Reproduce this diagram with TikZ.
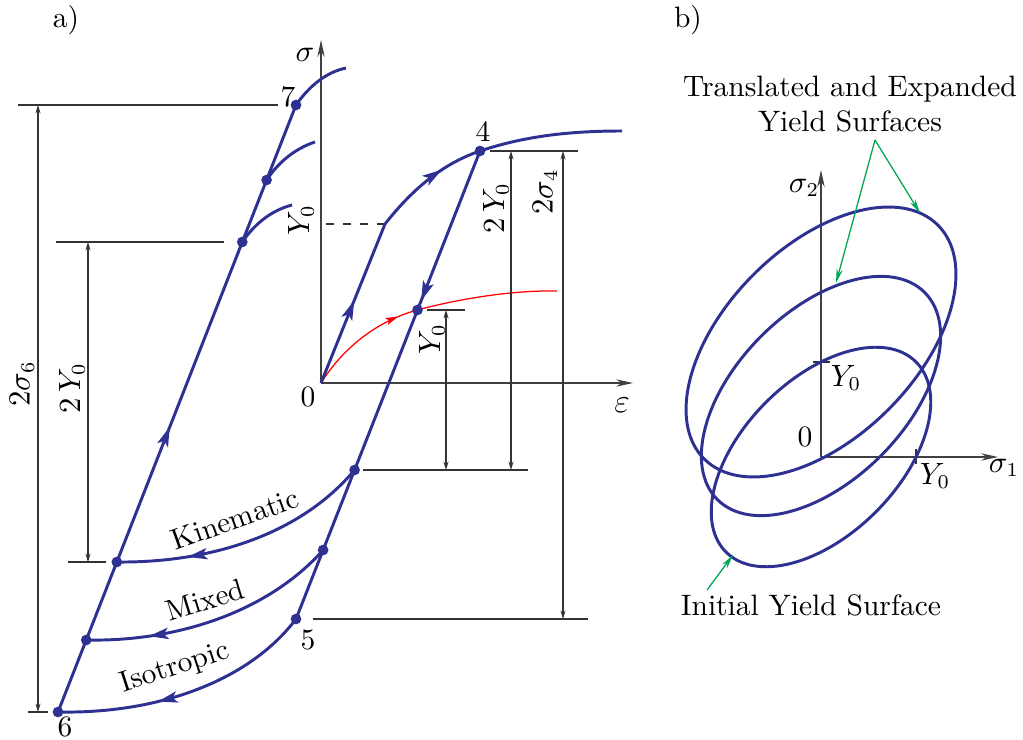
\documentclass[tikz,border=0pt]{standalone}
\usepackage{amsmath}
\usepackage{tikz}
\usetikzlibrary{
    arrows.meta,
    calc,
    decorations.markings
}
\definecolor{loopBlue}{RGB}{46,49,146}
\definecolor{surfGreen}{RGB}{0,166,81}
\tikzset{
  curve/.style    = {loopBlue, line width=1.05pt},
  redcurve/.style = {red, line width=0.45pt},
  dimline/.style  = {black!80, line width=0.4pt},
  dimarr/.style   = {dimline, {Stealth[length=3pt,width=1.8pt]}-{Stealth[length=3pt,width=1.8pt]}},
  axis/.style     = {black!75, line width=0.45pt, -{Stealth[length=6pt,width=2.6pt]}},
  pointer/.style  = {surfGreen, line width=0.45pt, -{Stealth[length=5pt,width=2.2pt]}},
  dot/.style      = {circle, fill=loopBlue, inner sep=0pt, minimum size=3.8pt},
  midarrow/.style = {postaction={decorate}, decoration={markings,
                     mark=at position #1 with {\arrow{Stealth[length=7pt,width=4pt,inset=1.6pt]}}}},
  redarrow/.style = {postaction={decorate}, decoration={markings,
                     mark=at position #1 with {\arrow{Stealth[length=4.5pt,width=2.6pt,inset=1pt]}}}},
  lbl/.style      = {inner sep=1pt, font=\fontsize{10.5}{12.5}\selectfont}
}

\begin{document}
\begin{tikzpicture}[x=0.0125cm, y=-0.0125cm]
\useasboundingbox (0,0) rectangle (1023,740);

% ---- a) uniaxial loading ----
\coordinate (O) at (321,383);
\coordinate (sig) at (321,40);
\coordinate (eps) at (633,383);
\coordinate (A) at (385,224);
\coordinate (p4) at (480,151);
\coordinate (p5) at (296,619);
\coordinate (p6) at (58,712);
\coordinate (p7) at (296,105);
\coordinate (e4) at (622,131);
\coordinate (er) at (557,291);
\coordinate (yr) at ($(p4)!0.3397!(p5)$);
\coordinate (k1) at ($(p4)!0.6816!(p5)$);
\coordinate (m1) at ($(p4)!0.8526!(p5)$);
\coordinate (m2) at ($(p6)!0.1186!(p7)$);
\coordinate (k2) at ($(p6)!0.2471!(p7)$);
\coordinate (u1) at ($(p6)!0.7743!(p7)$);
\coordinate (u2) at ($(p6)!0.8764!(p7)$);

\draw[axis] (O) -- (sig);
\draw[axis] (O) -- (eps);
\draw[dimline, dashed] (A) -- (O |- A);

\draw[redcurve, redarrow=0.39] (O) .. controls (345,345) and (380,320) .. (yr)
     .. controls (454,300) and (510,290) .. (er);

\draw[curve, midarrow=0.52] (O) -- (A);
\draw[curve, midarrow=0.65] (A) .. controls (415,186) and (445,163) .. (p4);
\draw[curve] (p4) .. controls (525,136) and (570,131) .. (e4);
\draw[curve, midarrow=0.32] (p4) -- (p5);
\draw[curve, midarrow=0.47] (p6) -- (p7);
\draw[curve] (p7) .. controls (310,85) and (327,72) .. (346,68);
\draw[curve] (u2) .. controls (280,160) and (297,148) .. (315,142);
\draw[curve] (u1) .. controls (256,222) and (273,210) .. (292,205);
\draw[curve, midarrow=0.73] (k1) .. controls (300,535) and (210,563) .. (k2);
\draw[curve, midarrow=0.76] (m1) .. controls (270,610) and (180,642) .. (m2);
\draw[curve, midarrow=0.62] (p5) .. controls (250,680) and (160,714) .. (p6);

\foreach \p in {p4,p5,p6,p7,yr,k1,m1,m2,k2,u1,u2}
  \node[dot] (d\p) at (\p) {};

% dimensions
\coordinate (x6) at (38,0);
\coordinate (xk) at (88,0);
\coordinate (xa) at (446,0);
\coordinate (xb) at (511,0);
\coordinate (xc) at (563,0);
\draw[dimline] (18,105) -- (278,105);
\draw[dimline] (28,712) -- (48,712);
\draw[dimline] (56,242) -- (224,242);
\draw[dimline] (68,562) -- (106,562);
\draw[dimline] (490,151) -- (578,151);
\draw[dimline] (427,310) -- (465,310);
\draw[dimline] (363,470) -- (528,470);
\draw[dimline] (313,619) -- (588,619);
\draw[dimarr] (x6 |- p7) -- (x6 |- p6);
\draw[dimarr] (xk |- u1) -- (xk |- k2);
\draw[dimarr] (xa |- yr) -- (xa |- k1);
\draw[dimarr] (xb |- p4) -- (xb |- k1);
\draw[dimarr] (xc |- p4) -- (xc |- p5);

\node[lbl] (la) at (66,20) {a)};
\node[lbl] (lsig) at (305,55) {$\sigma$};
\node[lbl, font=\fontsize{13}{15}\selectfont] (leps) at (622,405) {$\varepsilon$};
\node[lbl] (lO) at (308,397) {0};
\node[lbl, rotate=90] (lya) at (301,220) {$Y_0$};
\node[lbl] (l4) at (483,132) {4};
\node[lbl] (l5) at (308,640) {5};
\node[lbl] (l6) at (65,727) {6};
\node[lbl] (l7) at (288,97) {7};
\node[lbl, rotate=90] (ls6) at (22,384) {$2\sigma_6$};
\node[lbl, rotate=90] (lyk) at (72,388) {$2\,Y_0$};
\node[lbl, rotate=90] (lyb) at (496,208) {$2\,Y_0$};
\node[lbl, rotate=90] (ls4) at (545,192) {$2\sigma_4$};
\node[lbl, rotate=90] (lyr) at (432,339) {$Y_0$};
\node[lbl, rotate=19.7] (lkin) at (235,519) {Kinematic};
\node[lbl, rotate=17] (lmix) at (205,600) {Mixed};
\node[lbl, rotate=18] (liso) at (175,668) {Isotropic};

% ---- b) yield surfaces ----
\coordinate (O2) at (821,457);
\coordinate (s2) at (821,170);
\coordinate (s1) at (998,457);
\coordinate (c2) at (821,396);
\coordinate (c3) at (821,342);
\draw[axis] (O2) -- (s2);
\draw[axis] (O2) -- (s1);
\draw[dimline] (813,362) -- (830,362);
\draw[dimline] (916,449) -- (916,464);

\draw[curve] (O2) ellipse [x radius=134.4, y radius=77.6, rotate=45];
\draw[curve] (c2) ellipse [x radius=146.5, y radius=84.6, rotate=45];
\draw[curve] (c3) ellipse [x radius=165.3, y radius=95.4, rotate=45];

\coordinate (gtop) at (875,140);
\coordinate (g2) at (836,283);
\coordinate (g3) at (920,213);
\coordinate (gi) at (733,555);
\coordinate (gis) at (707,590);
\draw[pointer] (gtop) -- (g2);
\draw[pointer] (gtop) -- (g3);
\draw[pointer] (gis) -- (gi);

\node[lbl] (lb) at (688,20) {b)};
\node[lbl] (ls2) at (804,188) {$\sigma_2$};
\node[lbl] (ls1) at (1004,468) {$\sigma_1$};
\node[lbl] (lO2) at (805,437) {0};
\node[lbl] (ly2) at (846,378) {$Y_0$};
\node[lbl] (ly1) at (935,476) {$Y_0$};
\node[lbl, align=center] (ltr) at (850,104) {Translated and Expanded\\Yield Surfaces};
\node[lbl] (lini) at (811,605) {Initial Yield Surface};
\end{tikzpicture}
\end{document}
